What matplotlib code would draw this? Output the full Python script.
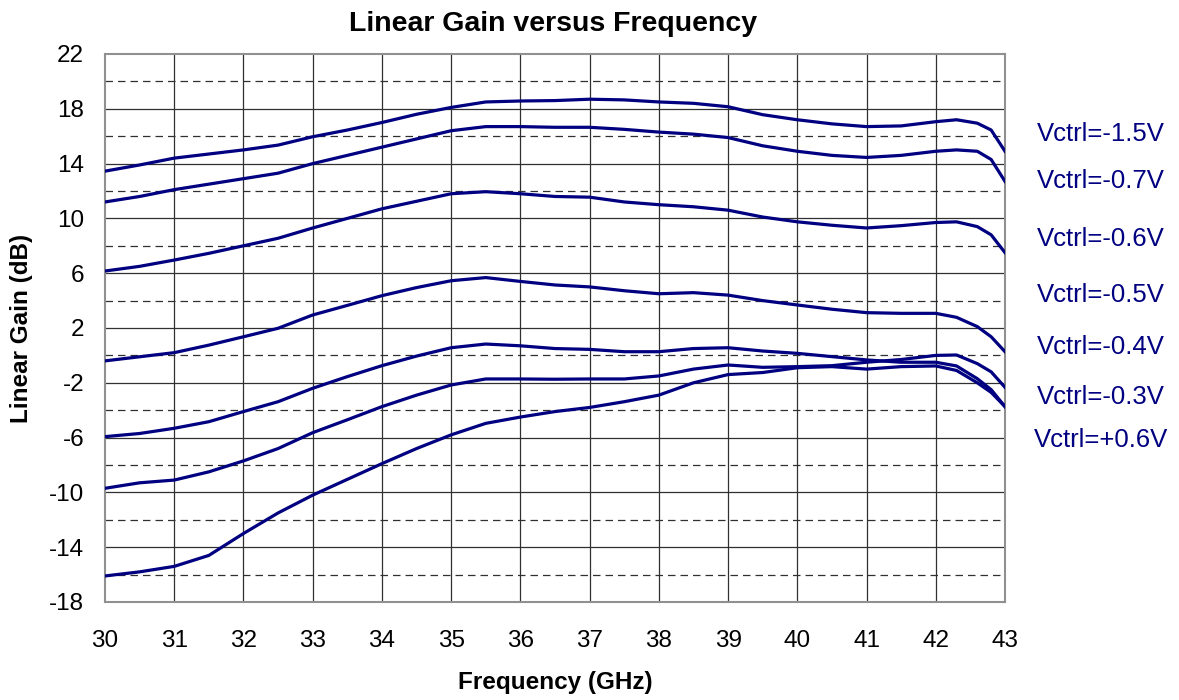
import matplotlib
matplotlib.use("Agg")
import matplotlib.pyplot as plt

plt.rcParams["font.family"] = ["Liberation Sans", "DejaVu Sans"]
plt.rcParams["axes.unicode_minus"] = False

freq = [30, 30.5, 31, 31.5, 32, 32.5, 33, 33.5, 34, 34.5, 35, 35.5, 36, 36.5,
        37, 37.5, 38, 38.5, 39, 39.5, 40, 40.5, 41, 41.5, 42, 42.3, 42.6, 42.8, 43]

gain_m15 = [13.45, 13.9, 14.4, 14.7, 15.0, 15.35, 15.96, 16.45, 17.0, 17.6, 18.1, 18.5, 18.57, 18.6,
            18.7, 18.65, 18.5, 18.4, 18.15, 17.57, 17.2, 16.9, 16.7, 16.75, 17.06, 17.2, 16.95, 16.45, 14.9]
gain_m07 = [11.2, 11.6, 12.1, 12.5, 12.9, 13.3, 14.0, 14.6, 15.2, 15.8, 16.4, 16.7, 16.7, 16.65,
            16.65, 16.5, 16.3, 16.15, 15.9, 15.3, 14.9, 14.6, 14.45, 14.6, 14.9, 15.0, 14.9, 14.3, 12.7]
gain_m06 = [6.16, 6.5, 6.96, 7.45, 8.0, 8.55, 9.3, 10.0, 10.7, 11.25, 11.8, 11.95, 11.8, 11.6,
            11.55, 11.2, 11.0, 10.85, 10.6, 10.1, 9.75, 9.5, 9.3, 9.47, 9.7, 9.75, 9.4, 8.8, 7.5]
gain_m05 = [-0.4, -0.1, 0.2, 0.75, 1.36, 1.98, 2.95, 3.65, 4.36, 4.95, 5.45, 5.68, 5.4, 5.14,
            5.0, 4.72, 4.5, 4.58, 4.4, 4.0, 3.68, 3.37, 3.12, 3.07, 3.07, 2.78, 2.1, 1.36, 0.27]
gain_m04 = [-5.93, -5.7, -5.32, -4.84, -4.1, -3.38, -2.4, -1.55, -0.75, -0.05, 0.56, 0.83, 0.7, 0.5,
            0.44, 0.27, 0.27, 0.5, 0.56, 0.32, 0.15, -0.09, -0.33, -0.5, -0.5, -0.77, -1.7, -2.5, -3.74]
gain_m03 = [-9.7, -9.3, -9.1, -8.5, -7.7, -6.8, -5.64, -4.7, -3.74, -2.9, -2.16, -1.72, -1.72, -1.74,
            -1.72, -1.72, -1.5, -1.0, -0.7, -0.87, -0.82, -0.75, -0.5, -0.3, 0.0, 0.03, -0.6, -1.2, -2.33]
gain_p06 = [-16.1, -15.8, -15.4, -14.6, -13.0, -11.5, -10.2, -9.05, -7.9, -6.8, -5.8, -4.96, -4.5, -4.1,
            -3.8, -3.38, -2.9, -2.0, -1.4, -1.25, -0.9, -0.82, -1.0, -0.82, -0.77, -1.1, -2.0, -2.7, -3.74]

curves = [gain_m15, gain_m07, gain_m06, gain_m05, gain_m04, gain_m03, gain_p06]
labels = ["Vctrl=-1.5V", "Vctrl=-0.7V", "Vctrl=-0.6V", "Vctrl=-0.5V",
          "Vctrl=-0.4V", "Vctrl=-0.3V", "Vctrl=+0.6V"]
label_y = [134, 181, 239, 295, 347, 397, 440]  # pixel rows of the side labels

navy = "#000080"
W, H = 1179, 700

fig = plt.figure(figsize=(W / 100, H / 100), dpi=100)
ax = fig.add_axes([105 / W, 1 - 602 / H, 900 / W, 548 / H])

# grid: solid every 4 dB, dashed in between, solid at each GHz
for y in range(-14, 22, 4):
    ax.axhline(y, color="#303030", lw=0.9, zorder=1)
for y in range(-16, 22, 4):
    ax.axhline(y, color="#303030", lw=0.9, ls=(0, (6, 4)), zorder=1)
for x in range(31, 43):
    ax.axvline(x, color="#303030", lw=0.9, zorder=1)

for g in curves:
    ax.plot(freq, g, color=navy, lw=2.3, zorder=3)

ax.set_xlim(30, 43)
ax.set_ylim(-18, 22)
ax.set_xticks(range(30, 44))
ax.set_yticks(range(-18, 23, 4))
ax.tick_params(axis="y", length=0, labelsize=17.5, pad=15)
ax.tick_params(axis="x", length=0, labelsize=17.5, pad=20)
for s in ax.spines.values():
    s.set_color("#909090")
    s.set_linewidth(1.5)

fig.text(553 / W, 1 - 24 / H, "Linear Gain versus Frequency", fontsize=20.5,
         fontweight="bold", ha="center", va="center")
fig.text(555 / W, 1 - 683 / H, "Frequency (GHz)", fontsize=17.5,
         fontweight="bold", ha="center", va="center")
fig.text(22 / W, 1 - 328 / H, "Linear Gain (dB)", fontsize=17.5,
         fontweight="bold", ha="center", va="center", rotation=90)

for lab, py in zip(labels, label_y):
    fig.text(1101 / W, 1 - py / H, lab, color=navy, fontsize=18.5,
             ha="center", va="center")

fig.savefig("out.png", dpi=100)
